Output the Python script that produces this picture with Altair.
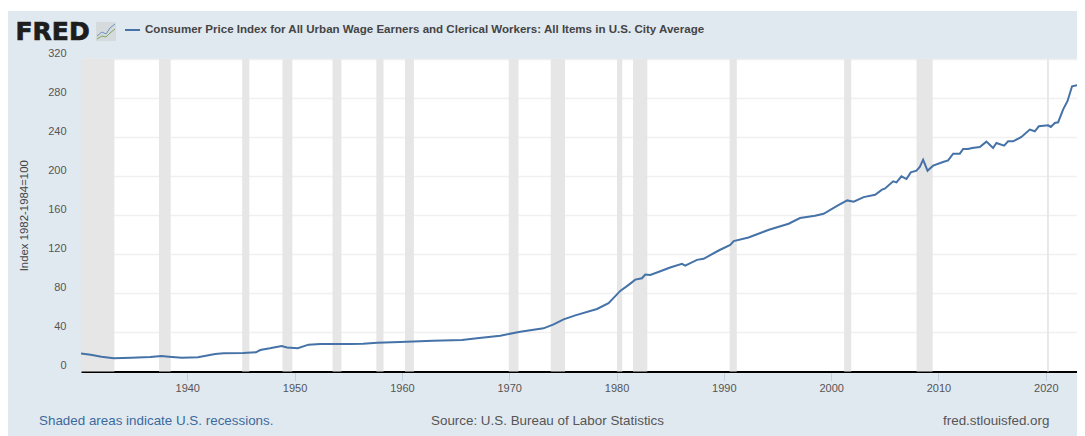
import altair as alt
import pandas as pd

line_years = [1930.1, 1931.0, 1932.0, 1933.15, 1934.8, 1936.55, 1937.6, 1938.3, 1939.5, 1941.0, 1942.6, 1943.4, 1945.2, 1946.4, 1946.8, 1947.7, 1948.8, 1949.3, 1950.3, 1951.3, 1952.4, 1955.2, 1956.4, 1957.7, 1959.85, 1962.9, 1965.6, 1967.0, 1969.17, 1971.03, 1973.2, 1974.14, 1975.07, 1976.16, 1978.18, 1979.26, 1980.35, 1981.13, 1981.75, 1982.37, 1982.68, 1983.15, 1984.08, 1985.0, 1986.1, 1986.4, 1987.5, 1988.12, 1989.52, 1990.6, 1990.92, 1992.3, 1994.2, 1996.04, 1997.1, 1998.5, 1999.3, 2000.55, 2001.5, 2002.1, 2003.03, 2004.1, 2004.74, 2005.0, 2005.78, 2006.09, 2006.55, 2007.02, 2007.42, 2007.95, 2008.26, 2008.57, 2008.98, 2009.5, 2010.43, 2010.9, 2011.37, 2011.99, 2012.3, 2012.76, 2013.14, 2013.85, 2014.47, 2015.09, 2015.4, 2016.12, 2016.49, 2016.96, 2017.73, 2018.51, 2018.98, 2019.35, 2020.22, 2020.47, 2020.84, 2021.15, 2021.61, 2022.02, 2022.45, 2022.95, 2023.07]
line_values = [18.4, 17.2, 15.2, 13.5, 14.0, 14.8, 15.9, 15.2, 14.2, 14.5, 17.9, 18.6, 19.0, 19.6, 22.0, 23.7, 26.1, 24.6, 23.9, 27.5, 28.2, 28.2, 28.3, 29.5, 30.2, 31.6, 32.3, 34.0, 36.7, 40.8, 44.2, 48.3, 53.4, 57.5, 64.0, 69.9, 82.5, 88.7, 94.1, 95.5, 99.3, 98.9, 102.7, 106.5, 110.2, 108.5, 114.3, 115.4, 123.9, 129.7, 133.5, 137.2, 145.1, 151.3, 157.1, 159.5, 161.5, 169.7, 175.2, 173.8, 178.6, 181.0, 186.2, 187.2, 194.7, 193.7, 199.8, 197.1, 203.9, 205.6, 209.4, 216.9, 205.6, 210.8, 214.5, 216.2, 223.1, 223.1, 227.9, 227.9, 228.9, 229.9, 235.4, 228.9, 234.0, 231.3, 235.7, 235.7, 240.2, 247.7, 246.0, 251.1, 252.1, 250.4, 254.5, 255.2, 268.2, 276.8, 292.1, 293.2, 291.1]
rec_start = [1930.1, 1937.37, 1945.12, 1948.87, 1953.54, 1957.62, 1960.29, 1969.96, 1973.87, 1980.04, 1981.54, 1990.54, 2001.21, 2007.96, 2020.12]
rec_end = [1933.21, 1938.46, 1945.79, 1949.79, 1954.37, 1958.29, 1961.12, 1970.87, 1975.21, 1980.54, 1982.87, 1991.21, 2001.87, 2009.46, 2020.29]
y_ticks = [0, 40, 80, 120, 160, 200, 240, 280, 320]
x_ticks = [1940, 1950, 1960, 1970, 1980, 1990, 2000, 2010, 2020]

TITLE = "Consumer Price Index for All Urban Wage Earners and Clerical Workers: All Items in U.S. City Average"
BG = "#E1E9F0"
LINE = "#4572A7"
FONT = "Liberation Sans"

x_scale = alt.Scale(domain=[1930.1, 2022.91], nice=False, zero=False)
y_scale = alt.Scale(domain=[0, 320], nice=False)

line_df = pd.DataFrame({"year": line_years, "value": line_values})
rec_df = pd.DataFrame({"start": rec_start, "end": rec_end})


def strip(x, x2, y, y2, color):
    return alt.Chart().mark_rect(color=color).encode(
        x=alt.value(x), x2=alt.value(x2), y=alt.value(y), y2=alt.value(y2))


def seg(x, y, x2, y2, color):
    return alt.Chart().mark_rule(color=color, strokeWidth=1).encode(
        x=alt.value(x), x2=alt.value(x2), y=alt.value(y), y2=alt.value(y2))


def label(text, x, y, size, color, weight="normal", font=FONT, **kw):
    return alt.Chart().mark_text(
        text=text, fontSize=size, color=color, fontWeight=weight, font=font,
        align="left", baseline="middle", clip=False, **kw
    ).encode(x=alt.value(x), y=alt.value(y))


rects = alt.Chart(rec_df).mark_rect(color="#E6E6E6").encode(
    x=alt.X("start:Q", scale=x_scale, axis=alt.Axis(
        values=x_ticks, format="d", title=None, grid=False, domainColor="#000000",
        domainWidth=2, tickColor="#C0D0E0", tickSize=9, tickWidth=1,
        labelColor="#555555", labelFontSize=11, labelFont=FONT, labelPadding=2)),
    x2="end:Q",
    y=alt.value(0),
    y2=alt.value(312.5),
)

line = alt.Chart(line_df).mark_line(color=LINE, strokeWidth=2, clip=True).encode(
    x=alt.X("year:Q", scale=x_scale),
    y=alt.Y("value:Q", scale=y_scale, axis=alt.Axis(
        values=y_ticks, title="Index 1982-1984=100", grid=True, gridColor="#F0F0F0",
        gridWidth=1.5, domain=False, ticks=False, labelOffset=-6, labelPadding=15,
        labelColor="#555555", labelFontSize=11, labelFont=FONT,
        titleColor="#444444", titleFontSize=11.4, titleFont=FONT,
        titleFontWeight="normal", titlePadding=18)),
)

layers = [
    strip(-73, 996, -51, -48, "#FFFFFF"),
    rects,
    line,
    label("FRED", -65.5, -27, 25, "#1D1D1D", "bold", "DejaVu Sans", stroke="#1D1D1D", strokeWidth=0.7),
    strip(15, 35, -37, -18, "#D5DBDD"),
    seg(16, -23, 21, -27, "#6C93BE"), seg(21, -27, 25, -25, "#6C93BE"),
    seg(25, -25, 29, -31, "#6C93BE"), seg(29, -31, 34, -35, "#6C93BE"),
    seg(16, -20, 21, -23, "#7FA65A"), seg(21, -23, 25, -22, "#7FA65A"),
    seg(25, -22, 29, -26, "#7FA65A"), seg(29, -26, 34, -30, "#7FA65A"),
    alt.Chart().mark_rule(color=LINE, strokeWidth=2).encode(
        x=alt.value(44), x2=alt.value(59), y=alt.value(-29), y2=alt.value(-29)),
    label(TITLE, 64, -29, 11.55, "#444444", "bold"),
    label("Shaded areas indicate U.S. recessions.", -42, 362, 13.4, "#3B6A9E"),
    label("Source: U.S. Bureau of Labor Statistics", 350, 362, 13.4, "#555555"),
    label("fred.stlouisfed.org", 862, 362, 13.4, "#555555"),
]

chart = alt.layer(*layers).properties(
    width=996,
    height=312.5,
    background=BG,
    padding={"left": 73, "top": 51, "right": 0, "bottom": 64},
    autosize=alt.AutoSizeParams(type="none"),
).configure_view(stroke=None, fill="#FFFFFF")

chart.save("out.html", embed_options={"renderer": "svg", "actions": False})
